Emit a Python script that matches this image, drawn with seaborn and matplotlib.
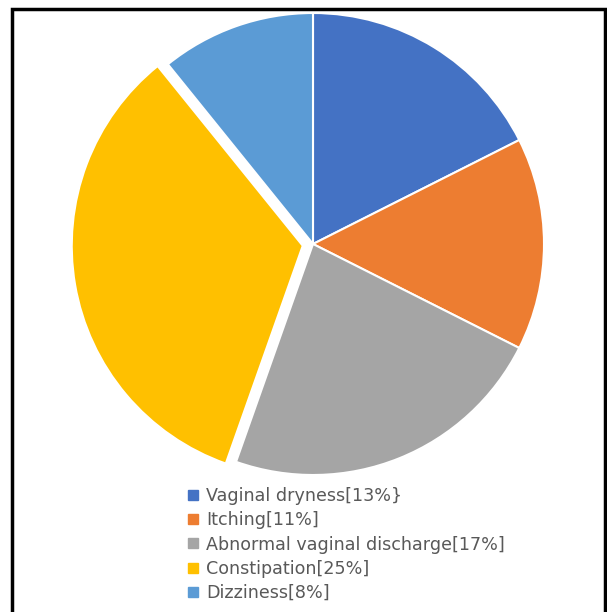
import matplotlib
matplotlib.use("Agg")
import matplotlib.pyplot as plt
import seaborn as sns
from matplotlib.lines import Line2D
from matplotlib.patches import Rectangle

categories = ["Vaginal dryness", "Itching", "Abnormal vaginal discharge", "Constipation", "Dizziness"]
values = [13, 11, 17, 25, 8]
legend_labels = ["Vaginal dryness[13%}", "Itching[11%]", "Abnormal vaginal discharge[17%]",
                 "Constipation[25%]", "Dizziness[8%]"]
colors = ["#4472C4", "#ED7D31", "#A5A5A5", "#FFC000", "#5B9BD5"]
explode = [0, 0, 0, 0.045, 0]

sns.set_theme(style="white")
plt.rcParams['font.family'] = ['DejaVu Sans']
palette = sns.color_palette(colors)

W, H = 607, 612
fig = plt.figure(figsize=(W / 100, H / 100), dpi=100)

# frame
fig.patches.append(Rectangle((12.5 / W, -0.05), (605 - 12.5) / W, (612 - 8.5) / H + 0.05,
                             transform=fig.transFigure, fill=False, edgecolor="black",
                             linewidth=2.5, zorder=0))

R = 231
cx, cy = 313, 244
ax = fig.add_axes([(cx - R) / W, (H - cy - R) / H, 2 * R / W, 2 * R / H])
ax.pie(values, colors=palette, startangle=90, counterclock=False, explode=explode,
       wedgeprops=dict(edgecolor="white", linewidth=1.5))
ax.set_xlim(-1, 1)
ax.set_ylim(-1, 1)
ax.axis("off")
for p in ax.patches:
    p.set_clip_on(False)

handles = [Line2D([0], [0], marker="s", linestyle="none", markersize=6.5,
                  markerfacecolor=c, markeredgecolor=c) for c in palette]
leg = fig.legend(handles, legend_labels, loc="upper left",
                 bbox_to_anchor=(181 / W, 1 - 480 / H), frameon=False,
                 fontsize=12.6, labelcolor="#595959", handlelength=0.6,
                 handletextpad=0.45, labelspacing=0.36, borderaxespad=0)

fig.savefig("out.png", dpi=100)
